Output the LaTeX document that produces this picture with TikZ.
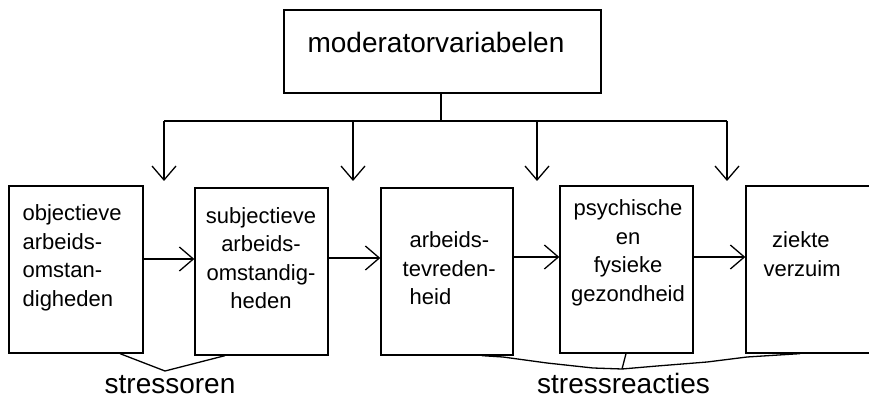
\documentclass[tikz,border=0pt]{standalone}
\usepackage{fontspec}
\setmainfont{Liberation Sans}
\usetikzlibrary{arrows.meta}
\begin{document}
\begin{tikzpicture}[x=1pt,y=-1pt,
  line width=1.3pt,
  box/.style={draw=black, line width=1.3pt, minimum width=#1, inner sep=0pt, minimum height=167},
  boxtext/.style={inner sep=0pt, font=\fontsize{22}{28.5}\selectfont},
  bigtext/.style={inner sep=0pt, font=\fontsize{28}{32}\selectfont},
  arr/.style={-{Straight Barb[length=14pt,width=24pt]}, line width=1.3pt},
  brace/.style={line width=1.3pt}
]
\useasboundingbox (0,0) rectangle (869,403);
\clip (0,0) rectangle (869,403);

% top box
\node[draw=black, line width=1.3pt, minimum width=317, minimum height=83, inner sep=0pt] (mod) at (442.5,51.5) {};
\node[bigtext, anchor=base] (modt) at (436,53) {moderatorvariabelen};

% bottom boxes
\node[box=134] (b1) at (76,269.5) {};
\node[box=133, minimum height=167] (b2) at (261.5,271.5) {};
\node[box=132, minimum height=167] (b3) at (447,271.5) {};
\node[box=133] (b4) at (626.5,269.5) {};
\node[box=160] (b5) at (826,269.5) {};

% texts
\node[boxtext, align=left, anchor=west] (t1) at (22,258) {objectieve\\arbeids-\\omstan-\\digheden};
\node[boxtext, align=center] (t2) at (261,258) {subjectieve\\arbeids-\\omstandig-\\heden};
\node[boxtext, align=left, anchor=west] (t3) at (402,268.5) {\hspace{7pt}arbeids-\\tevreden-\\\hspace{7pt}heid};
\node[boxtext, align=center] (t4) at (628,253) {psychische\\en\\fysieke\\gezondheid};
\node[boxtext, align=left, anchor=west] (t5) at (763,254) {\hspace{8.5pt}ziekte\\verzuim};

% moderator connectors
\coordinate (j0) at (441,121);
\coordinate (jl) at (164,121);
\coordinate (jr) at (727,121);
\coordinate (a1) at (164,181);
\coordinate (a2) at (353,181);
\coordinate (a3) at (537,181);
\coordinate (a4) at (727,181);
\draw (mod.south -| j0) -- (j0);
\draw (jl) -- (jr);
\draw[arr] (jl) -- (a1);
\draw[arr] (a2 |- j0) -- (a2);
\draw[arr] (a3 |- j0) -- (a3);
\draw[arr] (jr) -- (a4);

% horizontal arrows
\draw[arr] (b1.east |- 0,259) -- (b2.west |- 0,259);
\draw[arr] (b2.east |- 0,258) -- (b3.west |- 0,258);
\draw[arr] (b3.east |- 0,257) -- (b4.west |- 0,257);
\draw[arr] (b4.east |- 0,257) -- (b5.west |- 0,257);

% stressoren brace
\coordinate (s1) at (165,371);
\draw[brace] (120,0 |- b1.south) -- (s1) -- (225,0 |- b2.south);
\node[bigtext, anchor=base] (sl) at (170,393) {stressoren};

% stressreacties brace
\coordinate (r1) at (622,369);
\draw[brace] (482,0 |- b3.south) -- (503,357) -- (547,363) -- (593,368) -- (r1)
  -- (657,366) -- (707,362) -- (747,357) -- (800,0 |- b5.south);
\draw[brace] (626,0 |- b4.south) -- (r1);
\node[bigtext, anchor=base] (rl) at (623.5,393) {stressreacties};
\end{tikzpicture}
\end{document}
